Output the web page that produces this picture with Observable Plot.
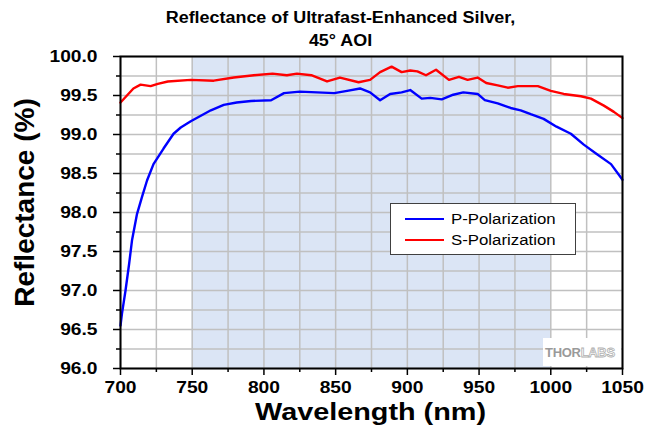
<!DOCTYPE html>
<html><head><meta charset="utf-8">
<script src="https://cdn.jsdelivr.net/npm/d3@7"></script>
<script src="https://cdn.jsdelivr.net/npm/@observablehq/plot@0.6"></script>
<style>
body{margin:0;background:#fff;font-family:"Liberation Sans",Arial,sans-serif;}
#wrap{position:relative;width:646px;height:435px;overflow:hidden;}
#legend{position:absolute;left:390px;top:203px;width:186px;height:52px;border:1px solid #404040;background:#fff;box-sizing:border-box;}
.lrow{position:absolute;left:0;height:20px;width:100%;}
.lline{position:absolute;left:14px;top:9px;width:39px;height:0;border-top:2.5px solid;}
.ltext{position:absolute;left:60px;top:0;font-size:14px;line-height:20px;color:#000;transform:scaleX(1.2);transform-origin:left center;white-space:nowrap;}
#logo{position:absolute;left:543px;top:338px;width:78px;height:28px;background:#fff;}
#logo span{position:absolute;left:2px;top:7px;font-size:13px;font-weight:bold;letter-spacing:-0.3px;white-space:nowrap;}
</style></head><body><div id="wrap"></div>
<script>
// ---- data ----
const wavelengthP = [700,701,703.5,706,708,711.5,715,718.5,723,730,737,742,749,756,763,772,781,791,805,814,825,837,849,858,867,874,881,888,896,902,910,916,924,932,939,949,954,963,972,979,986,995,1004,1014,1023,1032,1042,1050];
const reflectP    = [96.55,96.70,97.00,97.34,97.64,97.98,98.20,98.41,98.62,98.82,99.01,99.09,99.17,99.24,99.31,99.38,99.41,99.43,99.44,99.53,99.55,99.54,99.53,99.56,99.59,99.54,99.44,99.52,99.54,99.57,99.46,99.47,99.45,99.51,99.54,99.52,99.44,99.40,99.34,99.31,99.26,99.20,99.10,99.01,98.87,98.75,98.62,98.42];
const wavelengthS = [700,709,714,721,726,733,749,765,779,793,806,816,823,833,844,853,866,874,881,889,896,902,907,913,920,929,936,942,949,955,963,970,977,991,1000,1009,1021,1028,1037,1044,1050];
const reflectS    = [99.41,99.59,99.64,99.62,99.65,99.68,99.70,99.69,99.73,99.76,99.78,99.76,99.78,99.76,99.68,99.73,99.67,99.70,99.80,99.87,99.80,99.82,99.81,99.76,99.83,99.70,99.74,99.70,99.73,99.66,99.63,99.60,99.62,99.62,99.56,99.52,99.49,99.46,99.37,99.29,99.21];
const seriesNames  = ["P-Polarization","S-Polarization"];
const seriesColors = ["#0000ff","#ff0000"];
const xTicks = [700,750,800,850,900,950,1000,1050];
const xMinor = [725,775,825,875,925,975,1025];
const yTicks = [96.0,96.5,97.0,97.5,98.0,98.5,99.0,99.5,100.0];
const yMinor = [96.25,96.75,97.25,97.75,98.25,98.75,99.25,99.75];
const shadeBand = [750,1000];
const titleLines = ["Reflectance of Ultrafast-Enhanced Silver,","45° AOI"];
const xLabel = "Wavelength (nm)";
const yLabel = "Reflectance (%)";
const logoText = ["THOR","LABS"];

// ---- build ----
const dataP = wavelengthP.map((w,i)=>({w, r: reflectP[i]}));
const dataS = wavelengthS.map((w,i)=>({w, r: reflectS[i]}));
const gridXVals = [...xTicks, ...xMinor];
const gridYVals = [...yTicks, ...yMinor];
const txt = {fill: "#000", fontWeight: "bold", lineAnchor: "middle", textAnchor: "middle"};

const chart = Plot.plot({
  width: 646, height: 435,
  marginLeft: 120, marginRight: 24, marginTop: 56, marginBottom: 67,
  style: {fontFamily: "'Liberation Sans', Arial, sans-serif", background: "#fff", overflow: "visible"},
  x: {domain: [700,1050]},
  y: {domain: [96,100]},
  marks: [
    Plot.rect([{x1: shadeBand[0], x2: shadeBand[1]}], {x1: "x1", x2: "x2", fill: "#dbe5f5"}),
    Plot.gridX(gridXVals, {stroke: "#c0c0c0", strokeOpacity: 1, strokeWidth: 1.5}),
    Plot.gridY(gridYVals, {stroke: "#c0c0c0", strokeOpacity: 1, strokeWidth: 1.5}),
    Plot.line(dataP, {x: "w", y: "r", stroke: seriesColors[0], strokeWidth: 2.4}),
    Plot.line(dataS, {x: "w", y: "r", stroke: seriesColors[1], strokeWidth: 2.4}),
    Plot.frame({stroke: "#000", strokeWidth: 2}),
    Plot.axisX(xMinor, {tickSize: 4, tickFormat: () => "", stroke: "#000", strokeWidth: 1.5, label: null}),
    Plot.axisY(yMinor, {tickSize: 4, tickFormat: () => "", stroke: "#000", strokeWidth: 1.5, label: null}),
    Plot.axisX(xTicks, {tickSize: 7, tickPadding: 6, stroke: "#000", strokeWidth: 1.5, fontSize: 16, fontWeight: "bold", fill: "#000", tickFormat: d => String(d), label: null}),
    Plot.axisY(yTicks, {tickSize: 7, tickPadding: 16, stroke: "#000", strokeWidth: 1.5, fontSize: 16, fontWeight: "bold", fill: "#000", tickFormat: d => d.toFixed(1), label: null}),
    Plot.text([titleLines[0]], {...txt, frameAnchor: "top", dx: -31, dy: -39, fontSize: 16}),
    Plot.text([titleLines[1]], {...txt, frameAnchor: "top", dx: -31, dy: -16, fontSize: 16}),
    Plot.text([xLabel], {...txt, frameAnchor: "bottom", dx: -1, dy: 44, fontSize: 24}),
    Plot.text([yLabel], {...txt, frameAnchor: "left", dx: -95, dy: -10, rotate: -90, fontSize: 28})
  ]
});
const wrap = document.getElementById("wrap");
wrap.appendChild(chart);

function stretch(sel, f){
  sel.each(function(){
    const L = this.getComputedTextLength();
    this.setAttribute("textLength", L*f);
    this.setAttribute("lengthAdjust", "spacingAndGlyphs");
  });
}
const svg = d3.select(chart);
stretch(svg.selectAll('g[aria-label="x-axis tick label"] text'), 1.2);
stretch(svg.selectAll('g[aria-label="y-axis tick label"] text'), 1.2);
stretch(svg.selectAll("text").filter(function(){ return titleLines.includes(this.textContent); }), 1.12);
stretch(svg.selectAll("text").filter(function(){ return this.textContent === xLabel; }), 1.2);

// legend
const legend = document.createElement("div");
legend.id = "legend";
seriesNames.forEach((name,i)=>{
  const row = document.createElement("div");
  row.className = "lrow"; row.style.top = (5 + i*21) + "px";
  const ln = document.createElement("div"); ln.className = "lline"; ln.style.borderColor = seriesColors[i];
  const tx = document.createElement("div"); tx.className = "ltext"; tx.textContent = name;
  row.appendChild(ln); row.appendChild(tx); legend.appendChild(row);
});
wrap.appendChild(legend);

// logo
const logo = document.createElement("div");
logo.id = "logo";
const sp = document.createElement("span");
const a = document.createElement("span"); a.style.cssText = "position:static;color:#9a9a9a;"; a.textContent = logoText[0];
const b = document.createElement("span"); b.style.cssText = "position:static;color:#fff;-webkit-text-stroke:0.8px #b0b0b0;"; b.textContent = logoText[1];
sp.appendChild(a); sp.appendChild(b); logo.appendChild(sp);
wrap.appendChild(logo);
</script>
</body></html>
